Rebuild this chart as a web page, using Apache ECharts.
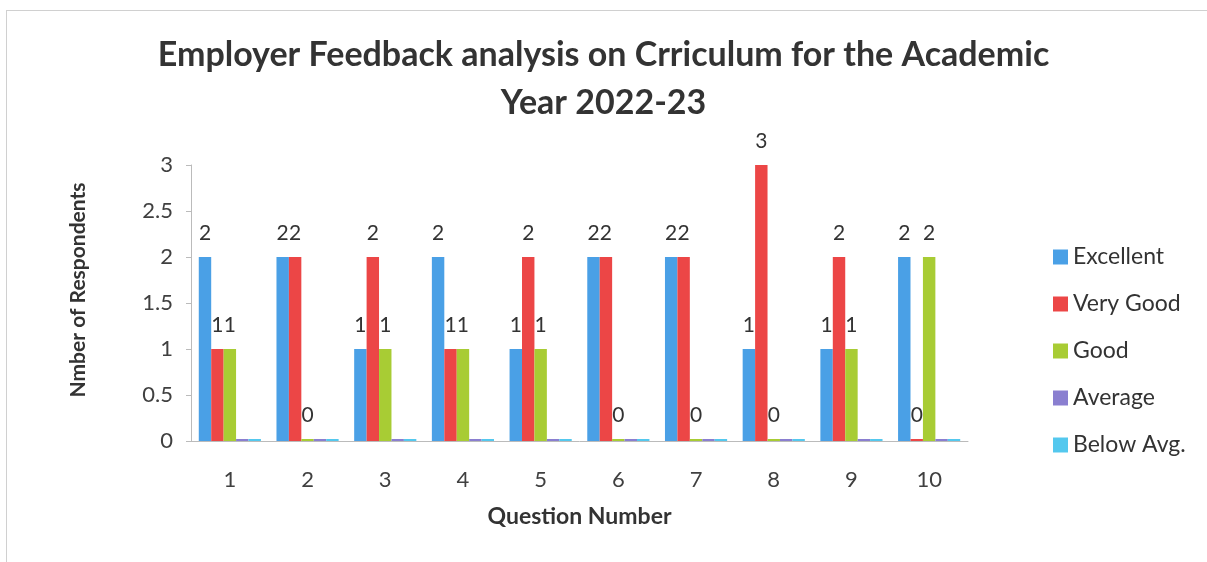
<!DOCTYPE html>
<html>
<head>
<meta charset="utf-8">
<script src="https://cdn.jsdelivr.net/npm/echarts@6/dist/echarts.min.js"></script>
<style>
  html, body { margin: 0; padding: 0; background: #fff; }
  #frame { position: absolute; left: 6px; top: 10px; width: 1201px; height: 552px;
           border-top: 1px solid #d0d0d0; border-left: 1px solid #d0d0d0; }
  #chart { position: absolute; left: 0; top: 0; width: 1207px; height: 562px; }
</style>
</head>
<body>
<div id="frame"></div>
<div id="chart"></div>
<script>
// question numbers on the x axis
const questions = ['1', '2', '3', '4', '5', '6', '7', '8', '9', '10']

// respondents per rating
const excellent = [2, 2, 1, 2, 1, 2, 2, 1, 1, 2]
const veryGood  = [1, 2, 2, 1, 2, 2, 2, 3, 2, 0]
const good      = [1, 0, 1, 1, 1, 0, 0, 0, 1, 2]
const average   = [0, 0, 0, 0, 0, 0, 0, 0, 0, 0]
const belowAvg  = [0, 0, 0, 0, 0, 0, 0, 0, 0, 0]

const font = 'Lato'
const chart = echarts.init(document.getElementById('chart'))

function bar(name, data, color, showLabel) {
  return {
    name: name,
    type: 'bar',
    data: data,
    barGap: '0%',
    barCategoryGap: '20%',
    barMinHeight: 2,
    itemStyle: { color: color },
    label: {
      show: showLabel,
      position: 'top',
      distance: 13,
      fontFamily: font,
      fontSize: 21,
      color: '#333'
    }
  }
}

chart.setOption({
  animation: false,
  textStyle: { fontFamily: font },
  title: {
    text: 'Employer Feedback analysis on Crriculum for the Academic\nYear 2022-23',
    left: 'center',
    top: 26,
    textStyle: {
      fontFamily: font,
      fontSize: 34,
      fontWeight: 'bold',
      color: '#333',
      lineHeight: 48
    }
  },
  legend: {
    orient: 'vertical',
    left: 1048,
    top: 240,
    itemWidth: 15,
    itemHeight: 15,
    itemGap: 23,
    icon: 'rect',
    textStyle: { fontFamily: font, fontSize: 23, lineHeight: 24, color: '#333' }
  },
  grid: { left: 191, right: 239, top: 165, bottom: 121 },
  xAxis: {
    type: 'category',
    data: questions,
    name: 'Question Number',
    nameLocation: 'middle',
    nameGap: 64,
    nameTextStyle: { fontFamily: font, fontSize: 23, fontWeight: 'bold', color: '#333' },
    axisLine: { lineStyle: { color: '#bbb' } },
    axisTick: { show: false },
    axisLabel: { fontFamily: font, fontSize: 22, color: '#404040', margin: 28 }
  },
  yAxis: {
    type: 'value',
    min: 0,
    max: 3,
    interval: 0.5,
    name: 'Nmber of Respondents',
    nameLocation: 'middle',
    nameGap: 102,
    nameTextStyle: { fontFamily: font, fontSize: 21, fontWeight: 'bold', color: '#333', padding: [0, 0, 0, 26] },
    axisLine: { show: true, lineStyle: { color: '#bbb' } },
    axisTick: { show: true, length: 5, lineStyle: { color: '#bbb' } },
    splitLine: { show: false },
    axisLabel: { fontFamily: font, fontSize: 22, color: '#404040', margin: 18 }
  },
  series: [
    bar('Excellent', excellent, '#4aa0e6', true),
    bar('Very Good', veryGood, '#ec4646', true),
    bar('Good', good, '#a8cc34', true),
    bar('Average', average, '#8a7fd0', false),
    bar('Below Avg.', belowAvg, '#54c8ee', false)
  ]
})
</script>
</body>
</html>
